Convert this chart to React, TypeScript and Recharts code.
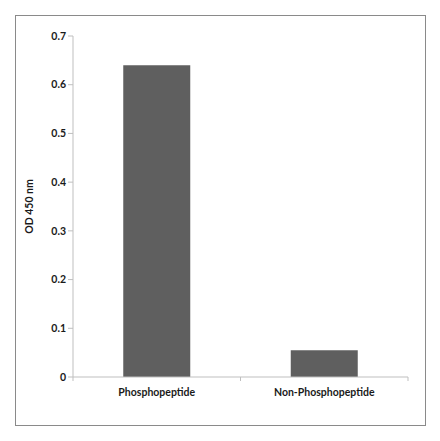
import { BarChart, Bar, XAxis, YAxis, Label } from "recharts";

const categories = ["Phosphopeptide", "Non-Phosphopeptide"];
const odValues = [0.64, 0.055];
const yTicks = [0, 0.1, 0.2, 0.3, 0.4, 0.5, 0.6, 0.7];

const chartData = categories.map((name, i) => ({ name, value: odValues[i] }));

const FONT = "Lato, 'Open Sans', sans-serif";
const AXIS_COLOR = "#bfbfbf";

function CategoryTick(props: any) {
    const { x, y, payload } = props;
    const half = payload && payload.offset ? payload.offset : 83.75;
    return (
        <g>
            <line x1={x - half} y1={y - 8} x2={x - half} y2={y - 4} stroke={AXIS_COLOR} />
            <line x1={x + half} y1={y - 8} x2={x + half} y2={y - 4} stroke={AXIS_COLOR} />
            <text
                x={x}
                y={y + 11}
                textAnchor="middle"
                fontFamily={FONT}
                fontWeight="bold"
                fontSize={10.5}
                fill="#1a1a1a"
            >
                {payload.value}
            </text>
        </g>
    );
}

export default function App() {
    return (
        <div style={{ position: "absolute", left: 0, top: 0, width: 440, height: 441, background: "#fff" }}>
            <div
                style={{
                    position: "absolute",
                    left: 15,
                    top: 15,
                    width: 409,
                    height: 409,
                    border: "1px solid #8a8a8a",
                }}
            />
            <BarChart
                width={440}
                height={441}
                data={chartData}
                margin={{ top: 36, right: 32, bottom: 34, left: 15 }}
                barCategoryGap="30%"
                style={{ position: "absolute", left: 0, top: 0 }}
            >
                <XAxis
                    dataKey="name"
                    height={30}
                    stroke={AXIS_COLOR}
                    tickLine={false}
                    tick={<CategoryTick />}
                    interval={0}
                />
                <YAxis
                    width={58}
                    domain={[0, 0.7]}
                    ticks={yTicks}
                    stroke={AXIS_COLOR}
                    tickSize={5}
                    tickFormatter={(v: number) => (v === 0 ? "0" : v.toFixed(1))}
                    tick={{ fontFamily: FONT, fontWeight: "bold", fontSize: 10.5, fill: "#1a1a1a" }}
                >
                    <Label
                        content={(p: any) => {
                            const vb = p.viewBox || { x: 15, y: 36, width: 58, height: 341 };
                            const cx = vb.x + 14;
                            const cy = vb.y + vb.height / 2;
                            return (
                                <text
                                    x={cx}
                                    y={cy}
                                    transform={`rotate(-90 ${cx} ${cy})`}
                                    textAnchor="middle"
                                    dominantBaseline="central"
                                    fontFamily={FONT}
                                    fontWeight="bold"
                                    fontSize={10.5}
                                    fill="#1a1a1a"
                                >
                                    OD 450 nm
                                </text>
                            );
                        }}
                    />
                </YAxis>
                <Bar dataKey="value" fill="#5f5f5f" isAnimationActive={false} />
            </BarChart>
        </div>
    );
}
